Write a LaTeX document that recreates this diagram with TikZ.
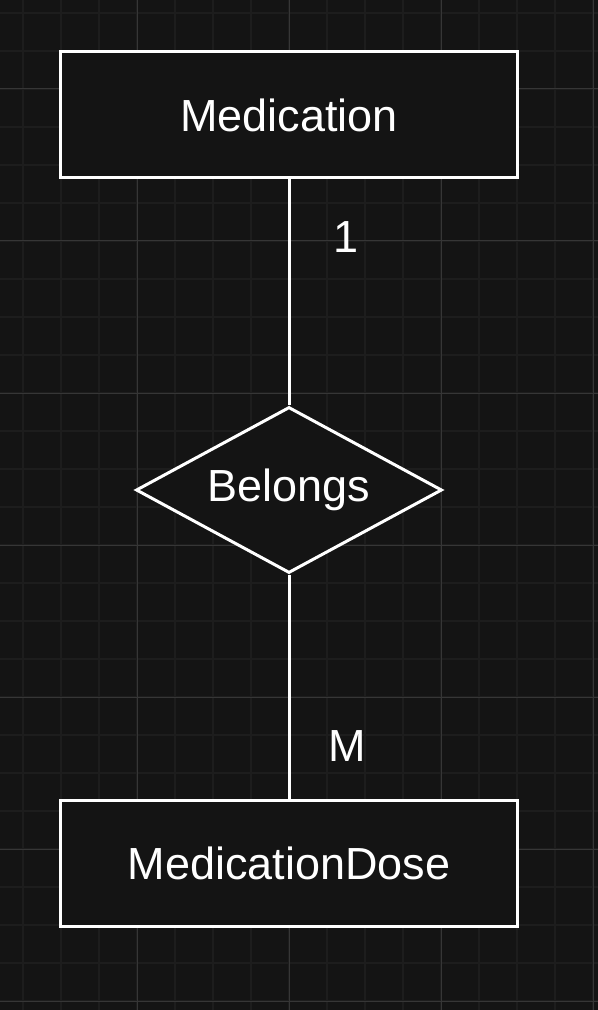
\documentclass[tikz,border=0pt]{standalone}
\usepackage{fontspec}
\setmainfont{Liberation Sans}
\usetikzlibrary{positioning,shapes.geometric}
\definecolor{canvas}{HTML}{141414}
\definecolor{gridminor}{HTML}{1D1D1D}
\definecolor{gridmajor}{HTML}{363636}

\begin{document}
\begin{tikzpicture}[x=0.5pt, y=-0.5pt, font=\fontsize{22.5}{27}\selectfont,
  ent/.style={draw=white, line width=1.5pt, fill=canvas, text=white,
              minimum width=228.5pt, minimum height=63pt},
  rel/.style={diamond, draw=white, line width=1.5pt, fill=canvas, text=white,
              inner sep=0pt, aspect=1.84, minimum width=153pt, minimum height=83pt},
  card/.style={text=white, inner sep=0pt},
  link/.style={draw=white, line width=1.5pt}]
  \useasboundingbox (0,0) rectangle (598,1010);
  \fill[canvas] (0,0) rectangle (598,1010);

  % raster
  \foreach \k in {0,...,15}{
    \draw[gridminor, line width=1pt] (23+38*\k,0) -- (23+38*\k,1010);
  }
  \foreach \k in {0,...,26}{
    \draw[gridminor, line width=1pt] (0,13+38*\k) -- (598,13+38*\k);
  }
  \foreach \k in {0,...,3}{
    \draw[gridmajor, line width=0.5pt] (137+152*\k,0) -- (137+152*\k,1010);
  }
  \foreach \k in {0,...,6}{
    \draw[gridmajor, line width=0.5pt] (0,89+152*\k) -- (598,89+152*\k);
  }

  % entitati si relatie
  \node[ent] (med) at (289,115) {Medication};
  \node[rel] (belongs) at (289,490) {Belongs};
  \node[ent] (dose) at (289,863.5) {MedicationDose};

  \draw[link] (med) -- (belongs);
  \draw[link] (belongs) -- (dose);

  % cardinalitati
  \node[card] (one) at (346,237) {1};
  \node[card] (many) at (347,746) {M};
\end{tikzpicture}
\end{document}
